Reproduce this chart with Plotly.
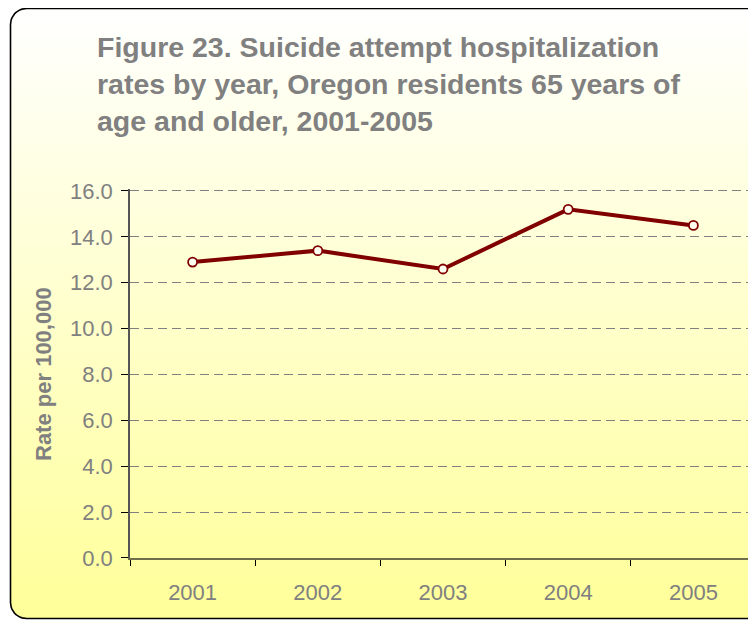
import plotly.graph_objects as go
import numpy as np

years = ["2001", "2002", "2003", "2004", "2005"]
rates = [12.9, 13.4, 12.6, 15.2, 14.5]
y_ticks = [0, 2, 4, 6, 8, 10, 12, 14, 16]
y_tick_labels = ["0.0", "2.0", "4.0", "6.0", "8.0", "10.0", "12.0", "14.0", "16.0"]

W, H = 756, 621
OFF = 8  # page body margin offset
FONT = "Liberation Sans, Arial, sans-serif"
GRAY = "#808080"

# rounded rectangle frame (pixel coordinates on a full-page helper axis)
x0, x1, y0, y1, r = 10.5 - OFF, 790, 8.5 - OFF, 618.5 - OFF, 16
def arc(cx, cy, a0, a1, n=12):
    t = np.linspace(a0, a1, n)
    return list(cx + r * np.cos(t)), list(cy + r * np.sin(t))
px, py = [], []
ax_, ay_ = arc(x0 + r, y0 + r, np.pi, 1.5 * np.pi); px += ax_; py += ay_
ax_, ay_ = arc(x1 - r, y0 + r, 1.5 * np.pi, 2 * np.pi); px += ax_; py += ay_
ax_, ay_ = arc(x1 - r, y1 - r, 0, 0.5 * np.pi); px += ax_; py += ay_
ax_, ay_ = arc(x0 + r, y1 - r, 0.5 * np.pi, np.pi); px += ax_; py += ay_
px.append(px[0]); py.append(py[0])

fig = go.Figure()
fig.add_trace(go.Scatter(
    x=px, y=py, mode="lines", xaxis="x", yaxis="y",
    line=dict(color="#000000", width=1.6),
    fill="toself",
    fillgradient=dict(type="vertical",
                      colorscale=[[0, "#FFFF99"], [1, "#FFFFFF"]]),
    hoverinfo="skip", showlegend=False,
))

fig.add_trace(go.Scatter(
    x=years, y=rates, mode="lines+markers", xaxis="x2", yaxis="y2",
    line=dict(color="#800000", width=4),
    marker=dict(symbol="circle", size=9, color="#FFFFF0",
                line=dict(color="#800000", width=1.8)),
    showlegend=False,
))

ppu = (558 - 191) / 16.0  # pixels per unit
ybot = 558 - OFF
ytop = 16.1
xl = 130 - OFF
xr = 756 - OFF
fig.update_layout(
    width=W, height=H,
    margin=dict(l=0, r=0, t=0, b=0, autoexpand=False),
    paper_bgcolor="#FFFFFF", plot_bgcolor="rgba(0,0,0,0)",
    font=dict(family=FONT, color=GRAY),
    xaxis=dict(domain=[0, 1], range=[0, W], visible=False, fixedrange=True,
               automargin=False),
    yaxis=dict(domain=[0, 1], range=[H, 0], visible=False, fixedrange=True,
               automargin=False),
    xaxis2=dict(
        domain=[xl / W, xr / W], anchor="y2", type="category",
        range=[-0.5, 4.5], automargin=False,
        showline=True, linecolor="#6f6f4a", linewidth=1.5,
        ticks="outside", ticklen=6, tickcolor="#000000",
        tickson="boundaries", showgrid=False,
        ticklabelstandoff=14,
        tickfont=dict(size=22, color=GRAY, family=FONT),
    ),
    yaxis2=dict(
        domain=[(H - ybot) / H, (H - (ybot - ppu * ytop)) / H], anchor="x2",
        range=[0, ytop], tickvals=y_ticks, ticktext=y_tick_labels,
        automargin=False,
        showline=True, linecolor="#555555", linewidth=1.5,
        ticks="outside", ticklen=7, tickcolor="#000000",
        ticklabelstandoff=4,
        showgrid=True, gridcolor="#808080", gridwidth=1.2,
        griddash="9px,5px", zeroline=False,
        tickfont=dict(size=22, color=GRAY, family=FONT),
    ),
    annotations=[
        dict(
            text="<b>Figure 23. Suicide attempt hospitalization<br>"
                 "rates by year, Oregon residents 65 years of<br>"
                 "age and older, 2001-2005</b>",
            xref="paper", yref="paper", x=87 / W, y=1 - 21 / H,
            xanchor="left", yanchor="top", align="left", showarrow=False,
            font=dict(size=28.5, color=GRAY, family=FONT),
        ),
        dict(
            text="<b>Rate per 100,000</b>", textangle=-90,
            xref="paper", yref="paper", x=36 / W, y=1 - 366 / H,
            xanchor="center", yanchor="middle", showarrow=False,
            font=dict(size=22, color=GRAY, family=FONT),
        ),
    ],
)

fig.write_html("out.html")
